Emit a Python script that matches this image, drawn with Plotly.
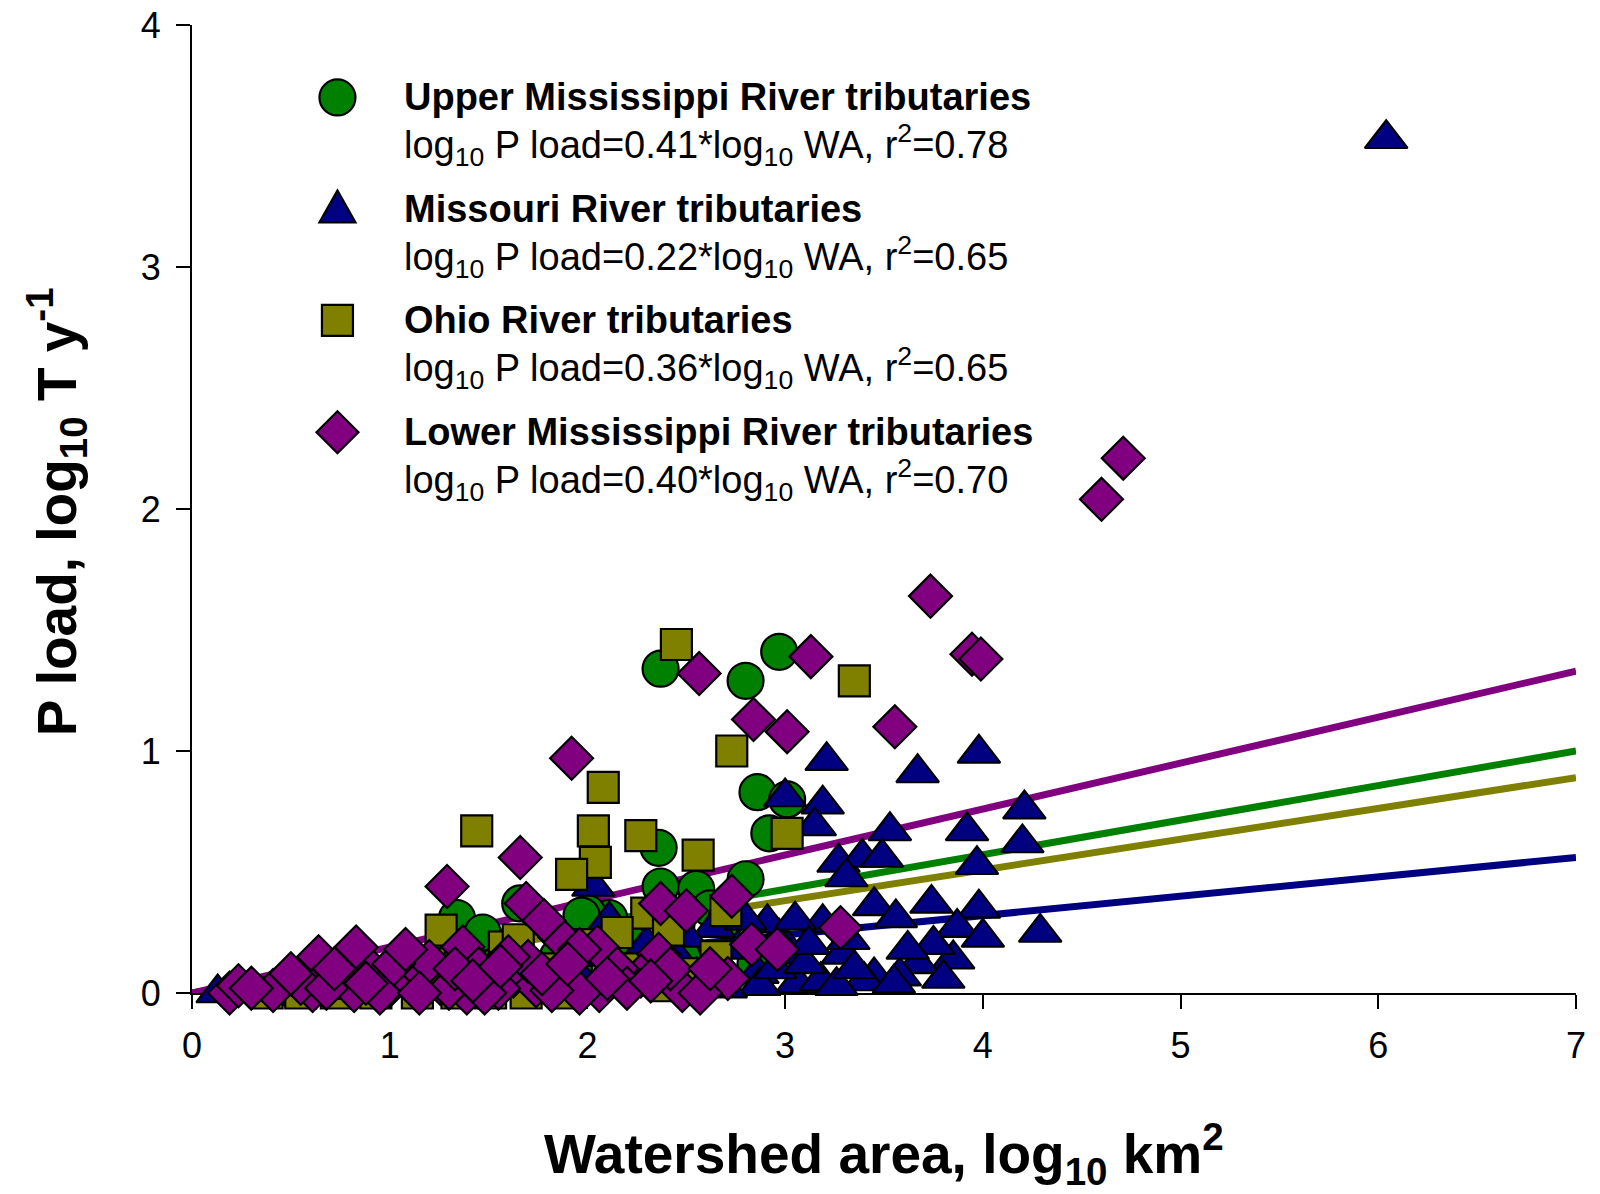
import plotly.graph_objects as go

# ---------------- data ----------------
ums_x = [2.37, 2.80, 2.97, 2.86, 3.01, 2.92, 2.36, 2.37, 2.80, 2.55, 2.11, 2.00, 1.66, 1.34,
         1.47, 1.97, 2.62, 2.20, 2.45, 2.70, 1.85, 1.55, 1.20, 0.95, 0.70, 0.50, 1.05, 1.40,
         1.75, 2.05, 2.30, 2.60, 2.85, 1.62, 2.15, 2.48]
ums_y = [1.34, 1.29, 1.41, 0.83, 0.80, 0.66, 0.60, 0.44, 0.47, 0.43, 0.31, 0.33, 0.37, 0.31,
         0.25, 0.32, 0.35, 0.22, 0.28, 0.30, 0.15, 0.12, 0.08, 0.05, 0.03, 0.02, 0.10, 0.06,
         0.04, 0.10, 0.08, 0.12, 0.12, 0.20, 0.18, 0.15]

mo_x = [0.13, 2.03, 3.21, 3.67, 3.98, 3.00, 3.19, 3.15, 3.53, 3.92, 4.21, 4.20, 3.27, 3.39,
        3.49, 3.97, 3.31, 3.45, 3.56, 3.74, 3.98, 3.87, 4.00, 4.29, 3.85, 3.67, 3.58, 3.45,
        3.40, 3.29, 3.32, 3.19, 3.06, 3.18, 2.97, 3.01, 2.91, 2.86, 2.76, 2.67, 2.64, 2.50,
        2.55, 2.87, 3.26, 2.11, 6.04, 2.20, 2.35, 2.42, 2.70, 2.95, 3.10, 3.35, 3.55, 3.75,
        3.62, 3.80, 2.30, 2.45, 1.95, 2.05, 2.80, 3.05, 3.12]
mo_y = [0.00, 0.44, 0.96, 0.91, 0.99, 0.81, 0.78, 0.69, 0.67, 0.67, 0.76, 0.62, 0.54, 0.56,
        0.56, 0.53, 0.48, 0.36, 0.31, 0.37, 0.35, 0.27, 0.23, 0.25, 0.14, 0.12, 0.07, 0.07,
        0.05, 0.16, 0.22, 0.29, 0.04, 0.05, 0.23, 0.16, 0.29, 0.08, 0.18, 0.12, 0.27, 0.23,
        0.07, 0.03, 0.03, 0.30, 3.53, 0.05, 0.10, 0.02, 0.02, 0.10, 0.12, 0.10, 0.04, 0.20,
        0.18, 0.06, 0.20, 0.15, 0.08, 0.15, 0.30, 0.30, 0.20]

oh_x = [2.45, 3.35, 2.73, 2.08, 1.44, 2.03, 2.27, 2.56, 2.04, 1.92, 3.01, 2.70, 2.30, 2.41,
        1.26, 1.58, 1.65, 0.38, 0.55, 0.73, 0.93, 1.14, 1.34, 1.51, 1.69, 1.90, 2.10, 2.25,
        2.40, 2.55, 2.65, 1.80, 1.45, 1.05, 0.80, 2.00, 2.15, 1.20]
oh_y = [1.44, 1.29, 1.00, 0.85, 0.67, 0.67, 0.65, 0.57, 0.54, 0.49, 0.66, 0.34, 0.33, 0.26,
        0.26, 0.19, 0.22, 0.00, 0.00, 0.00, 0.00, 0.00, 0.00, 0.00, 0.00, 0.00, 0.05, 0.10,
        0.03, 0.08, 0.15, 0.10, 0.08, 0.05, 0.04, 0.20, 0.25, 0.12]

lm_x = [4.71, 4.60, 3.735, 3.945, 3.99, 3.13, 2.565, 2.84, 3.01, 3.555, 1.92, 1.66, 1.29,
        3.28, 2.73, 2.37, 2.50, 2.83, 2.96, 2.36, 2.05, 2.27, 2.06, 2.48, 2.71, 2.57,
        1.69, 1.86, 1.78, 1.37, 1.07, 0.64, 0.73, 0.82, 0.61, 0.41, 0.19, 0.235, 0.90,
        1.00, 1.12, 1.255, 1.39, 1.51, 1.625, 1.74, 1.86, 1.96, 0.765, 0.83, 1.17, 1.96,
        1.45, 1.55, 0.95, 1.20, 1.70, 0.55, 1.30, 2.15, 2.20, 2.42, 1.82,
        0.30, 0.50, 0.68, 0.88, 1.02, 1.15, 1.33, 1.48, 1.60, 1.77, 1.90, 2.10, 2.32, 2.62,
        1.08, 0.72, 1.42, 1.56]
lm_y = [2.21, 2.04, 1.64, 1.40, 1.38, 1.39, 1.32, 1.13, 1.08, 1.10, 0.97, 0.56, 0.44,
        0.27, 0.40, 0.37, 0.34, 0.20, 0.18, 0.16, 0.19, 0.07, 0.01, 0.01, 0.06, 0.00,
        0.37, 0.23, 0.30, 0.19, 0.16, 0.15, 0.07, 0.01, 0.01, 0.01, 0.00, 0.03, 0.10,
        0.03, 0.04, 0.04, 0.00, 0.08, 0.07, 0.03, 0.08, 0.00, 0.12, 0.19, 0.08, 0.18,
        0.10, 0.02, 0.00, 0.13, 0.13, 0.04, 0.02, 0.10, 0.02, 0.10, 0.01,
        0.02, 0.08, 0.02, 0.04, 0.12, 0.00, 0.10, 0.00, 0.15, 0.08, 0.12, 0.06, 0.05, 0.10,
        0.18, 0.10, 0.05, 0.11]

fit_x = [0, 7]
fit_ums = [0, 1.00]
fit_mo = [0, 0.56]
fit_oh = [0, 0.89]
fit_lm = [0, 1.33]

series_names = ["Upper Mississippi River tributaries", "Missouri River tributaries",
                "Ohio River tributaries", "Lower Mississippi River tributaries"]
equations = ["log<sub>10</sub> P load=0.41*log<sub>10</sub> WA, r<sup>2</sup>=0.78",
             "log<sub>10</sub> P load=0.22*log<sub>10</sub> WA, r<sup>2</sup>=0.65",
             "log<sub>10</sub> P load=0.36*log<sub>10</sub> WA, r<sup>2</sup>=0.65",
             "log<sub>10</sub> P load=0.40*log<sub>10</sub> WA, r<sup>2</sup>=0.70"]

x_ticks = [0, 1, 2, 3, 4, 5, 6, 7]
y_ticks = [0, 1, 2, 3, 4]

# ---------------- styling ----------------
GREEN, NAVY, OLIVE, PURPLE = "#008000", "#000080", "#808000", "#800080"
FONT = "Liberation Sans, Arial, sans-serif"

W, H = 1600, 1194
L, R, T, B = 192, 1576.5, 24.5, 993  # plot area in pixels


def px_x(px):
    return (px - L) / (R - L)


def px_y(py):
    return (B - py) / (B - T)


fig = go.Figure()

for fy, col in [(fit_ums, GREEN), (fit_mo, NAVY), (fit_oh, OLIVE), (fit_lm, PURPLE)]:
    fig.add_trace(go.Scatter(x=fit_x, y=fy, mode="lines",
                             line=dict(color=col, width=7), showlegend=False,
                             hoverinfo="skip"))

mk_line = dict(color="black", width=2.2)
fig.add_trace(go.Scatter(x=ums_x, y=ums_y, mode="markers", name=series_names[0],
                         marker=dict(symbol="circle", size=36, color=GREEN, line=mk_line),
                         cliponaxis=False, showlegend=False))
fig.add_trace(go.Scatter(x=mo_x, y=mo_y, mode="markers", name=series_names[1],
                         marker=dict(symbol="triangle-up", size=37, color=NAVY, line=mk_line),
                         cliponaxis=False, showlegend=False))
fig.add_trace(go.Scatter(x=oh_x, y=oh_y, mode="markers", name=series_names[2],
                         marker=dict(symbol="square", size=31, color=OLIVE, line=mk_line),
                         cliponaxis=False, showlegend=False))
fig.add_trace(go.Scatter(x=lm_x, y=lm_y, mode="markers", name=series_names[3],
                         marker=dict(symbol="diamond", size=33, color=PURPLE, line=mk_line),
                         cliponaxis=False, showlegend=False))

# ---------------- hand-drawn legend ----------------
shapes = []
sym_x = 337.5
sym_cy = [97, 206, 320, 432]
shp_common = dict(xref="paper", yref="paper", xsizemode="pixel", ysizemode="pixel",
                  line=dict(color="black", width=2.2))
shapes.append(dict(type="circle", xanchor=px_x(sym_x), yanchor=px_y(sym_cy[0]),
                   x0=-18, x1=18, y0=-18, y1=18, fillcolor=GREEN, **shp_common))
shapes.append(dict(type="path", xanchor=px_x(sym_x), yanchor=px_y(sym_cy[1]),
                   path="M -18,-16 L 18,-16 L 0,16 Z", fillcolor=NAVY, **shp_common))
shapes.append(dict(type="path", xanchor=px_x(sym_x), yanchor=px_y(sym_cy[2]),
                   path="M -15.5,-15.5 L 15.5,-15.5 L 15.5,15.5 L -15.5,15.5 Z",
                   fillcolor=OLIVE, **shp_common))
shapes.append(dict(type="path", xanchor=px_x(sym_x), yanchor=px_y(sym_cy[3]),
                   path="M -21,0 L 0,21 L 21,0 L 0,-21 Z", fillcolor=PURPLE, **shp_common))

annotations = []
title_cy = [97, 209, 320, 432]
eq_cy = [145, 257, 368, 480]
for i in range(4):
    annotations.append(dict(text="<b>" + series_names[i] + "</b>", xref="paper", yref="paper",
                            x=px_x(402), y=px_y(title_cy[i]), xanchor="left", yanchor="middle",
                            showarrow=False, font=dict(family=FONT, size=38, color="black")))
    annotations.append(dict(text=equations[i], xref="paper", yref="paper",
                            x=px_x(402), y=px_y(eq_cy[i]), xanchor="left", yanchor="middle",
                            showarrow=False, font=dict(family=FONT, size=38, color="black")))

# axis titles
annotations.append(dict(text="<b>Watershed area, log<sub>10</sub> km<sup>2</sup></b>",
                        xref="paper", yref="paper", x=0.5, y=px_y(1154), xanchor="center",
                        yanchor="middle", showarrow=False,
                        font=dict(family=FONT, size=55, color="black")))
annotations.append(dict(text="<b>P load, log<sub>10</sub> T y<sup>-1</sup></b>",
                        xref="paper", yref="paper", x=px_x(57), y=px_y(512), xanchor="center",
                        yanchor="middle", textangle=-90, showarrow=False,
                        font=dict(family=FONT, size=55, color="black")))

TICKFONT = dict(family=FONT, size=36, color="black")
axis_common = dict(showgrid=False, zeroline=False, showline=True, linecolor="black",
                   linewidth=2, ticks="outside", ticklen=14, tickwidth=2, tickcolor="black",
                   layer="below traces", automargin=False)

fig.update_layout(
    width=W, height=H,
    font=dict(family=FONT, size=36, color="black"),
    margin=dict(l=L, r=W - R, t=T, b=H - B, pad=0, autoexpand=False),
    paper_bgcolor="white", plot_bgcolor="white",
    xaxis=dict(range=[0, 7], tickvals=x_ticks, ticktext=[str(v) for v in x_ticks],
               tickfont=TICKFONT, ticklabelstandoff=6, **axis_common),
    yaxis=dict(range=[0, 4], tickvals=y_ticks, ticktext=[str(v) for v in y_ticks],
               tickfont=TICKFONT, ticklabelstandoff=8, **axis_common),
    shapes=shapes, annotations=annotations, showlegend=False,
)

fig.write_html("out.html")
